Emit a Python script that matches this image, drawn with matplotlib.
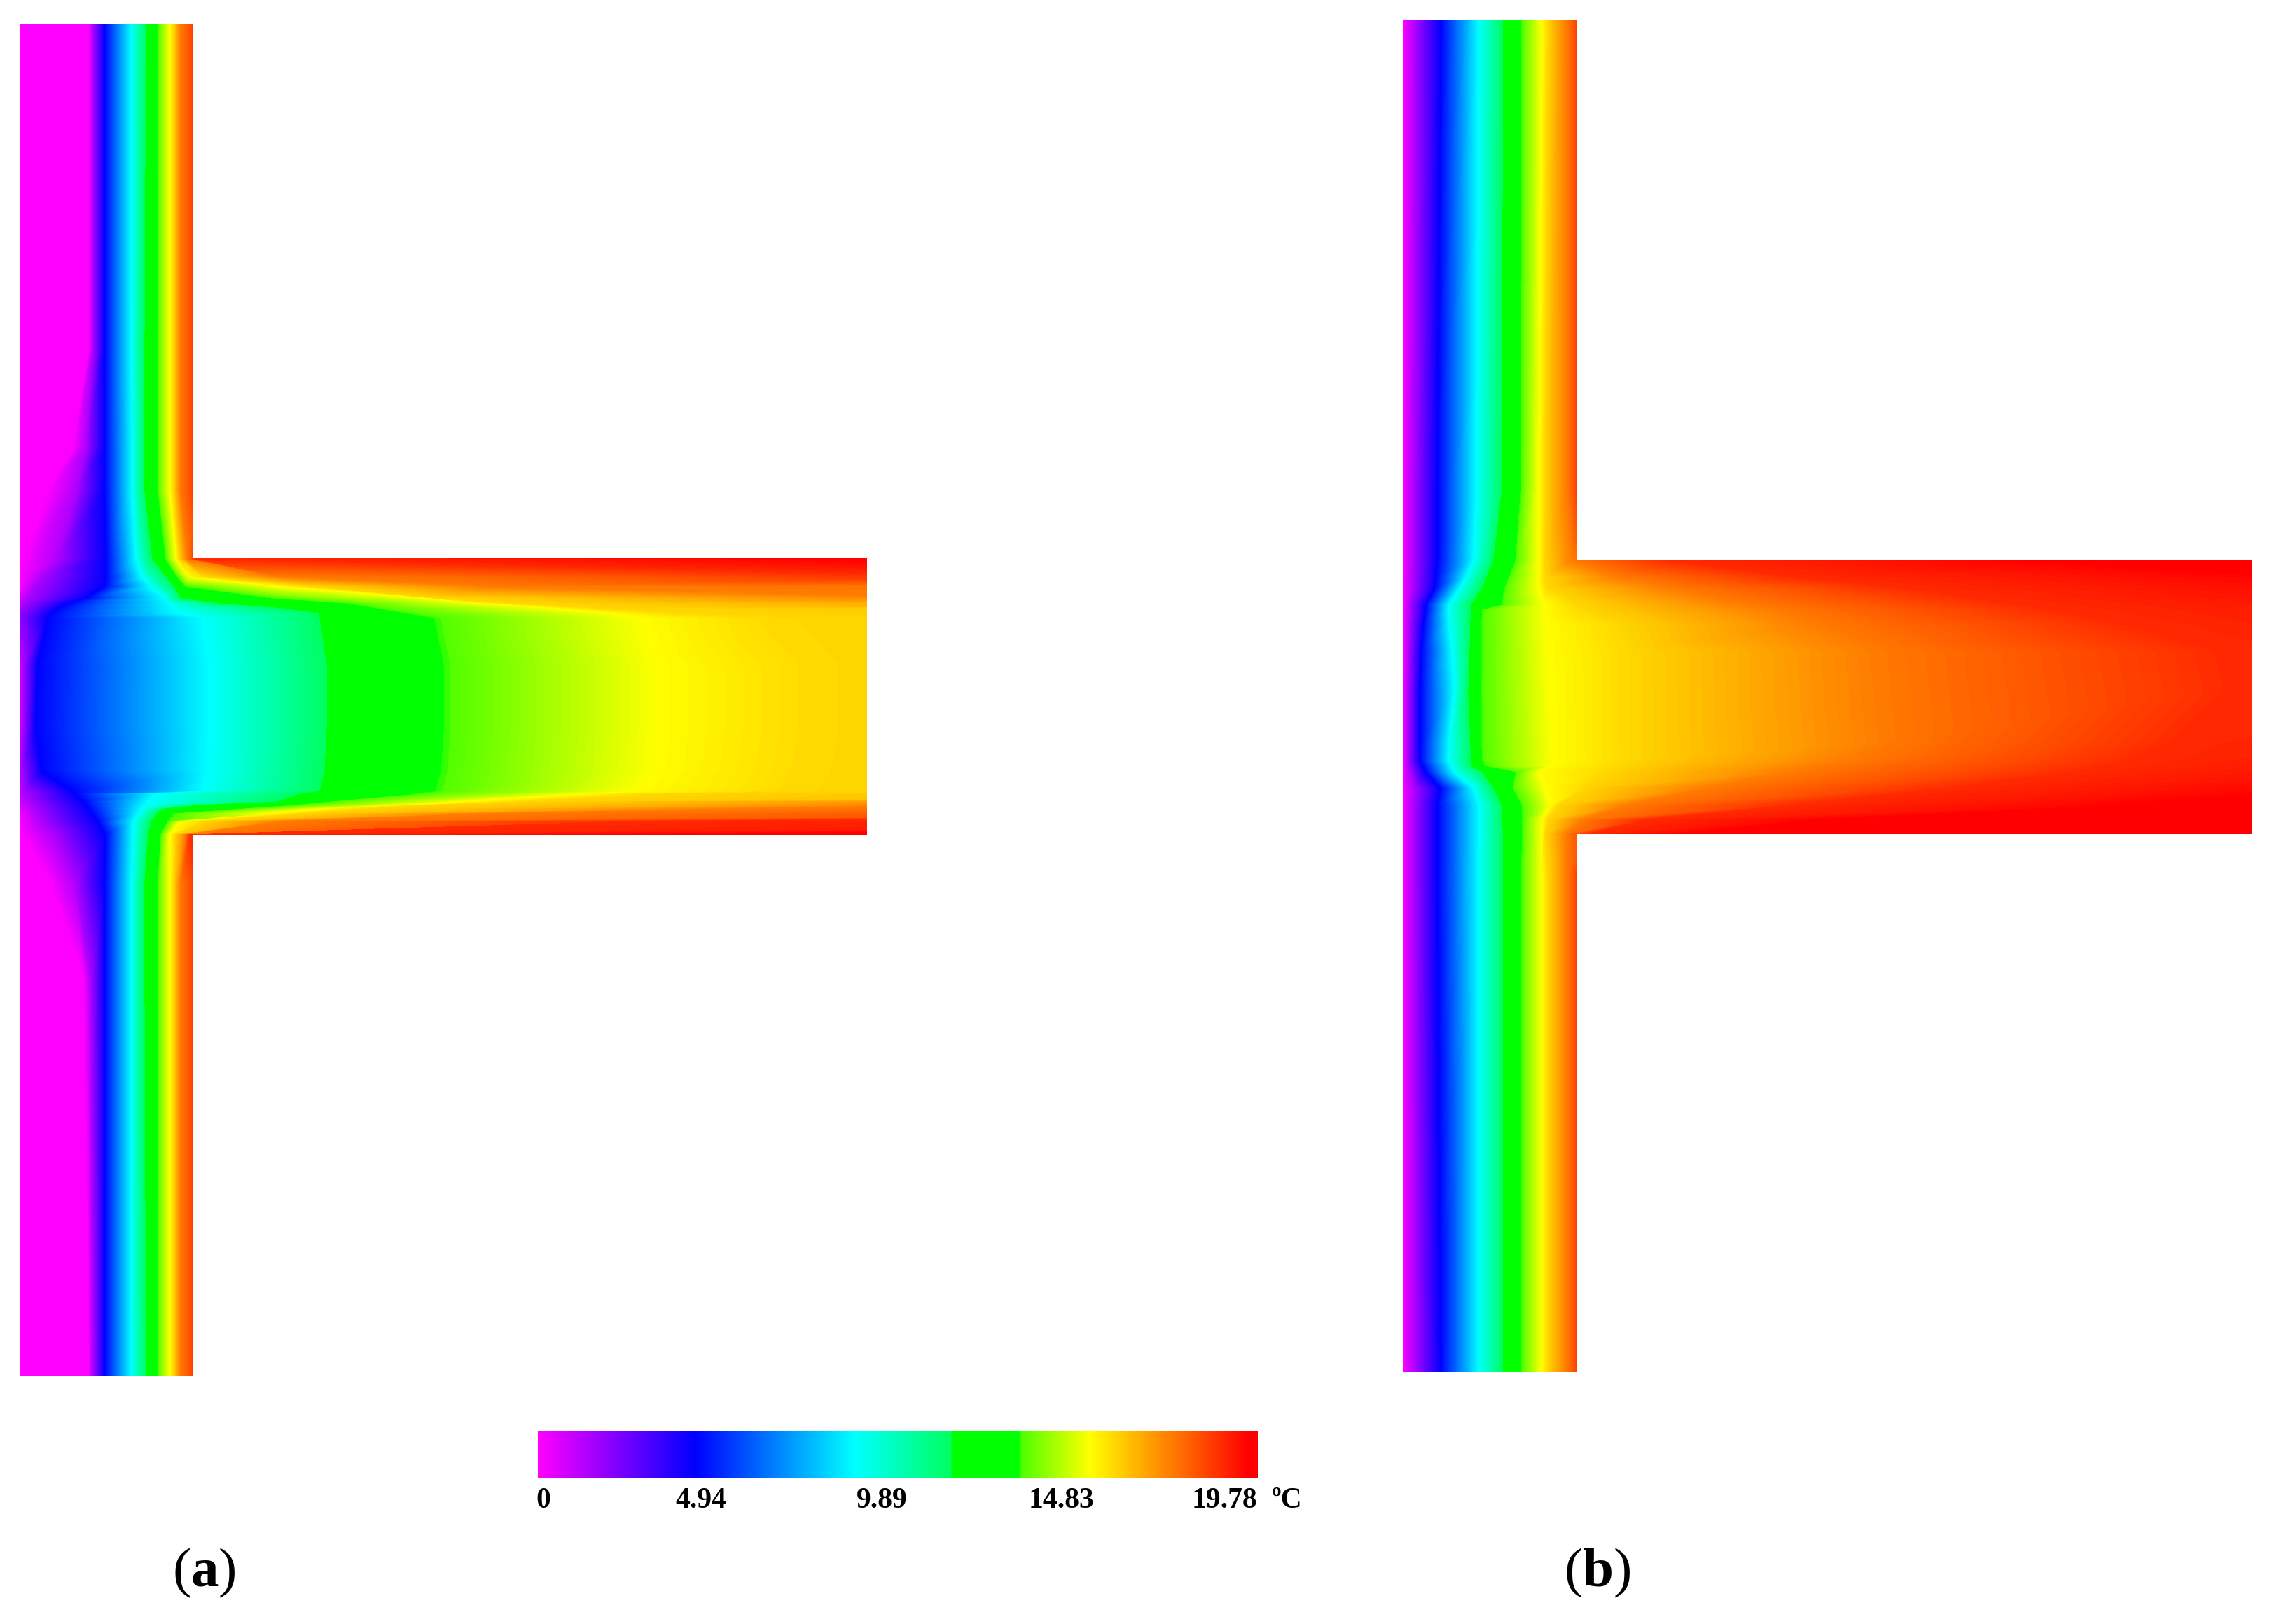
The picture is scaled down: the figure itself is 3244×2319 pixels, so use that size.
import numpy as np
import matplotlib
matplotlib.use('Agg')
import matplotlib.pyplot as plt
from matplotlib.cm import ScalarMappable
from matplotlib.colors import LinearSegmentedColormap, Normalize
from matplotlib.patches import Polygon
from matplotlib.tri import Triangulation

plt.rcParams['font.family'] = ['Liberation Serif', 'DejaVu Serif']
plt.rcParams['mathtext.fontset'] = 'custom'
plt.rcParams['mathtext.rm'] = 'Liberation Serif'
plt.rcParams['mathtext.bf'] = 'Liberation Serif:bold'

# colour scale
scale_pos = [0, 0.218, 0.44, 0.574, 0.576, 0.668, 0.672, 0.767, 0.987, 1.0]
scale_col = ['#ff00ff', '#0000ff', '#00ffff', '#00ff60', '#00ff00', '#00ff00', '#50ff00', '#ffff00', '#ff0000', '#ff0000']

tick_labels = ['0', '4.94', '9.89', '14.83', '19.78']
tick_x = [776, 1001, 1259, 1516, 1748]

# normalised temperature of each isotherm column below
levels = [0, 0, 0.07, 0.218, 0.44, 0.575, 0.67, 0.767, 0.80, 0.88, 0.95, 0.987, 1.0]

# panel (a): x of each isotherm at every row y
a_y = [34, 500, 640, 700, 798, 823, 837, 854, 861, 868, 875, 882, 950, 1039, 1100, 1130, 1134, 1145, 1150, 1155, 1162, 1173, 1192, 1260, 1400, 1965]
a_outer = [-100] * 26
a_magenta = [127, 127, 105, 70, 32, 28, 28, 20, 15, 8, 5, 5, 24, 24, 8, 8, 10, 15, 18, 20, 24, 28, 32, 72, 120, 127]
a_violet = [133, 133, 123, 110, 83, 62, 50, 40, 34, 28, 24, 22, 33, 33, 30, 34, 35, 42, 46, 50, 54, 60, 78, 108, 130, 133]
a_blue = [150, 150, 150, 150, 152, 152, 150, 125, 100, 85, 75, 68, 54, 51, 60, 104, 108, 120, 124, 128, 133, 141, 151, 150, 150, 150]
a_cyan = [188, 188, 189, 189, 195, 203, 216, 236, 243, 248, 253, 290, 300, 300, 298, 290, 222, 212, 207, 203, 199, 191, 190, 188, 188, 188]
a_green0 = [209, 207, 207, 207, 218, 238, 249, 259, 315, 406, 456, 458, 468, 468, 465, 458, 431, 398, 286, 236, 225, 217, 212, 207, 207, 209]
a_green1 = [226, 226, 226, 226, 237, 253, 265, 390, 497, 539, 580, 624, 638, 638, 634, 626, 597, 473, 423, 348, 249, 240, 230, 226, 226, 226]
a_yellow = [243, 243, 243, 243, 252, 270, 398, 614, 685, 788, 871, 916, 941, 941, 935, 912, 829, 663, 580, 464, 390, 257, 243, 243, 243, 243]
a_gold = [248, 248, 248, 248, 256, 290, 440, 620, 730, 850, 960, 1100, 1160, 1160, 1150, 1130, 930, 740, 600, 520, 430, 290, 250, 248, 248, 248]
a_orange = [258, 258, 258, 258, 268, 398, 700, 1400, 1900, 3500, 4000, 5000, 5000, 5000, 5000, 5000, 2800, 1500, 1350, 1050, 700, 400, 265, 258, 258, 258]
a_deep = [283, 283, 283, 283, 280, 1400, 8000, 8000, 8000, 8000, 8000, 8000, 8000, 8000, 8000, 8000, 8000, 5000, 4000, 3000, 2200, 900, 272, 283, 283, 283]
a_red = [290, 290, 290, 290, 1200, 3000, 9000, 9000, 9000, 9000, 9000, 9000, 9000, 9000, 9000, 9000, 9000, 9000, 9000, 9000, 5000, 3000, 900, 290, 290, 290]
a_far = [30000] * 26

# panel (b)
b_y = [28, 700, 800, 823, 840, 857, 864, 871, 890, 930, 986, 1060, 1086, 1093, 1102, 1125, 1150, 1171, 1191, 1250, 1959]
b_outer = [1880] * 21
b_magenta = [2003] * 21
b_violet = [2021, 2019, 2019, 2018, 2018, 2015, 2014, 2014, 2013, 2012, 2011, 2011, 2011, 2012, 2014, 2020, 2019, 2019, 2019, 2019, 2021]
b_blue = [2058, 2053, 2053, 2051, 2049, 2040, 2036, 2036, 2033, 2030, 2028, 2028, 2028, 2032, 2036, 2057, 2053, 2053, 2053, 2053, 2058]
b_cyan = [2112, 2109, 2105, 2095, 2085, 2074, 2069, 2069, 2070, 2074, 2077, 2070, 2069, 2073, 2077, 2105, 2113, 2113, 2113, 2112, 2112]
b_green0 = [2147, 2145, 2133, 2124, 2117, 2106, 2101, 2101, 2100, 2099, 2097, 2100, 2101, 2101, 2117, 2133, 2145, 2145, 2147, 2147, 2147]
b_green1 = [2173, 2172, 2165, 2156, 2149, 2146, 2145, 2117, 2116, 2116, 2115, 2116, 2117, 2121, 2165, 2161, 2174, 2174, 2174, 2173, 2173]
b_yellow = [2202, 2198, 2198, 2198, 2198, 2204, 2206, 2206, 2208, 2211, 2214, 2217, 2218, 2214, 2198, 2206, 2214, 2202, 2202, 2202, 2202]
b_gold = [2210, 2206, 2205, 2206, 2210, 2240, 2250, 2259, 2304, 2323, 2323, 2323, 2323, 2310, 2290, 2262, 2225, 2210, 2206, 2210, 2210]
b_orange = [2237, 2237, 2245, 2310, 2390, 2464, 2500, 2540, 2592, 2675, 2680, 2688, 2640, 2598, 2560, 2440, 2323, 2259, 2237, 2237, 2237]
b_deep = [2258, 2258, 2385, 2560, 2726, 2840, 2890, 2935, 3030, 3167, 3180, 3103, 3040, 3007, 2960, 2790, 2560, 2350, 2270, 2258, 2258]
b_red = [2264, 2264, 2900, 3300, 3513, 3700, 3800, 3900, 4100, 4300, 4400, 4000, 3800, 3700, 3600, 3350, 3040, 2600, 2400, 2264, 2264]
b_far = [30000] * 21

# outlines of the two sections
a_outline = [(28, 34), (276, 34), (276, 797), (1238, 797), (1238, 1192), (276, 1192), (276, 1965), (28, 1965)]
b_outline = [(2003, 28), (2252, 28), (2252, 800), (3215, 800), (3215, 1191), (2252, 1191), (2252, 1959), (2003, 1959)]


def draw_panel(ax, rows, columns, outline):
    ny, nc = len(rows), len(columns)
    x = np.array(columns, dtype=float).T.ravel()
    y = np.repeat(rows, nc).astype(float)
    t = np.tile(levels, ny)
    tris = []
    for j in range(ny - 1):
        for i in range(nc - 1):
            p = j * nc + i
            tris.append([p, p + 1, p + nc])
            tris.append([p + 1, p + nc + 1, p + nc])
    tri = Triangulation(x, y, np.array(tris))
    cs = ax.tricontourf(tri, t, levels=np.linspace(0, 1, 257), cmap=cmap, norm=norm,
                        extend='both', antialiased=False)
    patch = Polygon(outline, closed=True, transform=ax.transData, fc='none', ec='none')
    ax.add_patch(patch)
    cs.set_clip_path(patch)


cmap = LinearSegmentedColormap.from_list('section', list(zip(scale_pos, scale_col)), N=1024)
norm = Normalize(0, 1)

W, H = 3244, 2319
fig = plt.figure(figsize=(W / 100, H / 100), dpi=100)
ax = fig.add_axes([0, 0, 1, 1])
ax.set_xlim(0, W)
ax.set_ylim(H, 0)
ax.axis('off')

draw_panel(ax, a_y, [a_outer, a_magenta, a_violet, a_blue, a_cyan, a_green0, a_green1, a_yellow, a_gold, a_orange, a_deep, a_red, a_far], a_outline)
draw_panel(ax, b_y, [b_outer, b_magenta, b_violet, b_blue, b_cyan, b_green0, b_green1, b_yellow, b_gold, b_orange, b_deep, b_red, b_far], b_outline)

# legend bar
cax = fig.add_axes([768 / W, 1 - 2111 / H, (1796 - 768) / W, (2111 - 2043) / H])
cb = fig.colorbar(ScalarMappable(norm=norm, cmap=cmap), cax=cax, orientation='horizontal')
cb.outline.set_visible(False)
cb.set_ticks([])

for xt, lab in zip(tick_x, tick_labels):
    ax.text(xt, 2143, lab, ha='center', va='center', fontsize=30, fontweight='bold')
ax.text(1838, 2143, 'ºC', ha='center', va='center', fontsize=30, fontweight='bold')

ax.text(291, 2246, r'$\mathrm{(}\mathbf{a}\mathrm{)}$', ha='center', va='center', fontsize=57)
ax.text(2281, 2246, r'$\mathrm{(}\mathbf{b}\mathrm{)}$', ha='center', va='center', fontsize=57)

fig.savefig('out.png', dpi=100, facecolor='white')
